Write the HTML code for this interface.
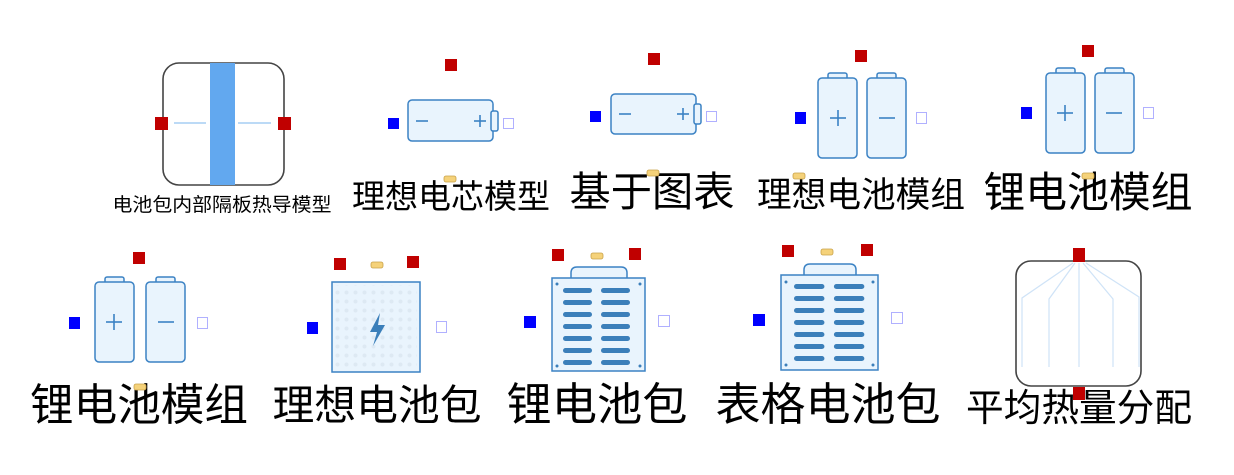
<!DOCTYPE html>
<html><head><meta charset="utf-8"><style>
html,body{margin:0;padding:0;background:#fff;}
svg{display:block;}
text{font-family:"Liberation Sans","Noto Sans CJK SC",sans-serif;fill:#000;}
</style></head><body>
<svg width="1234" height="475" viewBox="0 0 1234 475" xmlns="http://www.w3.org/2000/svg">
<defs>
  <g id="vbat">
    <rect x="10" y="0" width="19" height="7" rx="2" fill="#e9f4fd" stroke="#3b82c4" stroke-width="1.5"/>
    <rect x="0" y="5" width="39" height="80" rx="4" fill="#e9f4fd" stroke="#3b82c4" stroke-width="1.5"/>
  </g>
  <g id="yel"><rect x="-6" y="-3" width="12" height="6" rx="2" fill="#f5d27a" stroke="#c9a24a" stroke-width="0.8"/></g>
  <pattern id="dots" width="9" height="9" patternUnits="userSpaceOnUse"><circle cx="4.5" cy="4.5" r="2" fill="#dde9f3"/></pattern>
  <g id="slots">
    <g fill="#3b7fba">
      <rect x="0" y="0" width="29" height="5" rx="2.5"/><rect x="38" y="0" width="29" height="5" rx="2.5"/>
      <rect x="0" y="12" width="29" height="5" rx="2.5"/><rect x="38" y="12" width="29" height="5" rx="2.5"/>
      <rect x="0" y="24" width="29" height="5" rx="2.5"/><rect x="38" y="24" width="29" height="5" rx="2.5"/>
      <rect x="0" y="36" width="29" height="5" rx="2.5"/><rect x="38" y="36" width="29" height="5" rx="2.5"/>
      <rect x="0" y="48" width="29" height="5" rx="2.5"/><rect x="38" y="48" width="29" height="5" rx="2.5"/>
      <rect x="0" y="60" width="29" height="5" rx="2.5"/><rect x="38" y="60" width="29" height="5" rx="2.5"/>
      <rect x="0" y="72" width="29" height="5" rx="2.5"/><rect x="38" y="72" width="29" height="5" rx="2.5"/>
    </g>
  </g>
</defs>

<!-- 1 -->
<rect x="163" y="63" width="121" height="122" rx="16" fill="#fff" stroke="#444" stroke-width="1.6"/>
<rect x="210" y="63" width="25" height="122" fill="#62a8ef"/>
<line x1="174" y1="123" x2="206" y2="123" stroke="#7ab4ec" stroke-width="1"/>
<line x1="238" y1="123" x2="271" y2="123" stroke="#7ab4ec" stroke-width="1"/>
<rect x="155" y="117" width="13" height="13" fill="#c00000"/>
<rect x="278" y="117" width="13" height="13" fill="#c00000"/>
<text x="222" y="211" font-size="19" text-anchor="middle" textLength="219" lengthAdjust="spacingAndGlyphs">电池包内部隔板热导模型</text>

<!-- 2 -->
<rect x="408" y="100" width="85" height="41" rx="4" fill="#e9f4fd" stroke="#3b82c4" stroke-width="1.5"/>
<rect x="491" y="111" width="7" height="20" rx="2" fill="#e9f4fd" stroke="#3b82c4" stroke-width="1.5"/>
<line x1="416" y1="121" x2="428" y2="121" stroke="#3b82c4" stroke-width="1.6"/>
<line x1="474" y1="121" x2="486" y2="121" stroke="#3b82c4" stroke-width="1.6"/><line x1="480" y1="115" x2="480" y2="127" stroke="#3b82c4" stroke-width="1.6"/>
<rect x="445" y="59" width="12" height="12" fill="#c00000"/>
<rect x="388" y="118" width="11" height="11" fill="#0000ff"/>
<rect x="503.5" y="118.5" width="10" height="10" fill="#fff" stroke="#b0b0ff" stroke-width="1"/>
<text x="451" y="208" font-size="33" text-anchor="middle" textLength="198" lengthAdjust="spacingAndGlyphs">理想电芯模型</text>
<use href="#yel" x="450" y="179"/>

<!-- 3 -->
<rect x="611" y="94" width="85" height="40" rx="4" fill="#e9f4fd" stroke="#3b82c4" stroke-width="1.5"/>
<rect x="694" y="104" width="7" height="20" rx="2" fill="#e9f4fd" stroke="#3b82c4" stroke-width="1.5"/>
<line x1="619" y1="114" x2="631" y2="114" stroke="#3b82c4" stroke-width="1.6"/>
<line x1="677" y1="114" x2="689" y2="114" stroke="#3b82c4" stroke-width="1.6"/><line x1="683" y1="108" x2="683" y2="120" stroke="#3b82c4" stroke-width="1.6"/>
<rect x="648" y="53" width="12" height="12" fill="#c00000"/>
<rect x="590" y="111" width="11" height="11" fill="#0000ff"/>
<rect x="706.5" y="111.5" width="10" height="10" fill="#fff" stroke="#b0b0ff" stroke-width="1"/>
<text x="652" y="206" font-size="41" text-anchor="middle" textLength="165" lengthAdjust="spacingAndGlyphs">基于图表</text>
<use href="#yel" x="653" y="173"/>

<!-- 4 -->
<use href="#vbat" x="818" y="73"/>
<use href="#vbat" x="867" y="73"/>
<line x1="830" y1="118" x2="846" y2="118" stroke="#3b82c4" stroke-width="1.6"/><line x1="838" y1="110" x2="838" y2="126" stroke="#3b82c4" stroke-width="1.6"/>
<line x1="879" y1="118" x2="895" y2="118" stroke="#3b82c4" stroke-width="1.6"/>
<rect x="855" y="50" width="12" height="12" fill="#c00000"/>
<rect x="795" y="112" width="11" height="12" fill="#0000ff"/>
<rect x="916.5" y="112.5" width="10" height="11" fill="#fff" stroke="#b0b0ff" stroke-width="1"/>
<text x="861" y="207" font-size="35" text-anchor="middle" textLength="208" lengthAdjust="spacingAndGlyphs">理想电池模组</text>
<use href="#yel" x="799" y="176"/>

<!-- 5 -->
<use href="#vbat" x="1046" y="68"/>
<use href="#vbat" x="1095" y="68"/>
<line x1="1057" y1="113" x2="1073" y2="113" stroke="#3b82c4" stroke-width="1.6"/><line x1="1065" y1="105" x2="1065" y2="121" stroke="#3b82c4" stroke-width="1.6"/>
<line x1="1106" y1="113" x2="1122" y2="113" stroke="#3b82c4" stroke-width="1.6"/>
<rect x="1082" y="45" width="12" height="12" fill="#c00000"/>
<rect x="1021" y="107" width="11" height="12" fill="#0000ff"/>
<rect x="1143.5" y="107.5" width="10" height="11" fill="#fff" stroke="#b0b0ff" stroke-width="1"/>
<text x="1088" y="207" font-size="42" text-anchor="middle" textLength="209" lengthAdjust="spacingAndGlyphs">锂电池模组</text>
<use href="#yel" x="1088" y="176"/>

<!-- 6 -->
<use href="#vbat" x="95" y="277"/>
<use href="#vbat" x="146" y="277"/>
<line x1="106" y1="322" x2="122" y2="322" stroke="#3b82c4" stroke-width="1.6"/><line x1="114" y1="314" x2="114" y2="330" stroke="#3b82c4" stroke-width="1.6"/>
<line x1="158" y1="322" x2="174" y2="322" stroke="#3b82c4" stroke-width="1.6"/>
<rect x="133" y="252" width="12" height="12" fill="#c00000"/>
<rect x="69" y="317" width="11" height="12" fill="#0000ff"/>
<rect x="197.5" y="317.5" width="10" height="11" fill="#fff" stroke="#b0b0ff" stroke-width="1"/>
<text x="139" y="420" font-size="44" text-anchor="middle" textLength="218" lengthAdjust="spacingAndGlyphs">锂电池模组</text>
<use href="#yel" x="140" y="387"/>

<!-- 7 -->
<rect x="332" y="282" width="88" height="90" fill="#e9f4fd" stroke="#3b82c4" stroke-width="1.5"/>
<rect x="335" y="285" width="82" height="84" fill="url(#dots)"/>
<path d="M380 313 L370 332 L377 332 L373 346 L385 325 L378 325 Z" fill="#3b7fba"/>
<rect x="334" y="258" width="12" height="12" fill="#c00000"/>
<rect x="407" y="256" width="12" height="12" fill="#c00000"/>
<use href="#yel" x="377" y="265"/>
<rect x="307" y="322" width="11" height="12" fill="#0000ff"/>
<rect x="436.5" y="321.5" width="10" height="11" fill="#fff" stroke="#b0b0ff" stroke-width="1"/>
<text x="377" y="420" font-size="42" text-anchor="middle" textLength="209" lengthAdjust="spacingAndGlyphs">理想电池包</text>

<!-- 8 -->
<path d="M571 279 V273 Q571 267 577 267 H621 Q627 267 627 273 V279" fill="#e9f4fd" stroke="#3b82c4" stroke-width="1.5"/>
<rect x="552" y="278" width="93" height="93" fill="#e9f4fd" stroke="#3b82c4" stroke-width="1.5"/>
<g fill="#3b7fba"><circle cx="557" cy="284" r="1.5"/><circle cx="640" cy="284" r="1.5"/><circle cx="557" cy="366" r="1.5"/><circle cx="640" cy="366" r="1.5"/></g>
<use href="#slots" x="563" y="288"/>
<rect x="552" y="249" width="12" height="12" fill="#c00000"/>
<rect x="629" y="248" width="12" height="12" fill="#c00000"/>
<use href="#yel" x="597" y="256"/>
<rect x="524" y="316" width="12" height="12" fill="#0000ff"/>
<rect x="658.5" y="315.5" width="11" height="11" fill="#fff" stroke="#b0b0ff" stroke-width="1"/>
<text x="597" y="420" font-size="45" text-anchor="middle" textLength="181" lengthAdjust="spacingAndGlyphs">锂电池包</text>

<!-- 9 -->
<path d="M804 276 V270 Q804 264 810 264 H850 Q856 264 856 270 V276" fill="#e9f4fd" stroke="#3b82c4" stroke-width="1.5"/>
<rect x="781" y="275" width="97" height="95" fill="#e9f4fd" stroke="#3b82c4" stroke-width="1.5"/>
<g fill="#3b7fba"><circle cx="786" cy="282" r="1.5"/><circle cx="873" cy="282" r="1.5"/><circle cx="786" cy="365" r="1.5"/><circle cx="873" cy="365" r="1.5"/></g>
<g transform="translate(794,284) scale(1.05,1)"><use href="#slots"/></g>
<rect x="782" y="245" width="12" height="12" fill="#c00000"/>
<rect x="861" y="244" width="12" height="12" fill="#c00000"/>
<use href="#yel" x="827" y="252"/>
<rect x="753" y="314" width="12" height="12" fill="#0000ff"/>
<rect x="891.5" y="312.5" width="11" height="11" fill="#fff" stroke="#b0b0ff" stroke-width="1"/>
<text x="828" y="420" font-size="45" text-anchor="middle" textLength="225" lengthAdjust="spacingAndGlyphs">表格电池包</text>

<!-- 10 -->
<rect x="1016" y="261" width="125" height="125" rx="15" fill="#fff" stroke="#444" stroke-width="1.6"/>
<g stroke="#cfe3f7" stroke-width="1.2" fill="none">
<path d="M1073 263 L1022 298 V367"/>
<path d="M1075 263 L1049 299 V367"/>
<path d="M1079 263 V367"/>
<path d="M1083 263 L1113 299 V367"/>
<path d="M1086 263 L1139 297 V367"/>
</g>
<rect x="1073" y="248" width="12" height="14" fill="#c00000"/>
<rect x="1073" y="387" width="12" height="13" fill="#c00000"/>
<text x="1079" y="421" font-size="38" text-anchor="middle" textLength="226" lengthAdjust="spacingAndGlyphs">平均热量分配</text>
</svg>
</body></html>
